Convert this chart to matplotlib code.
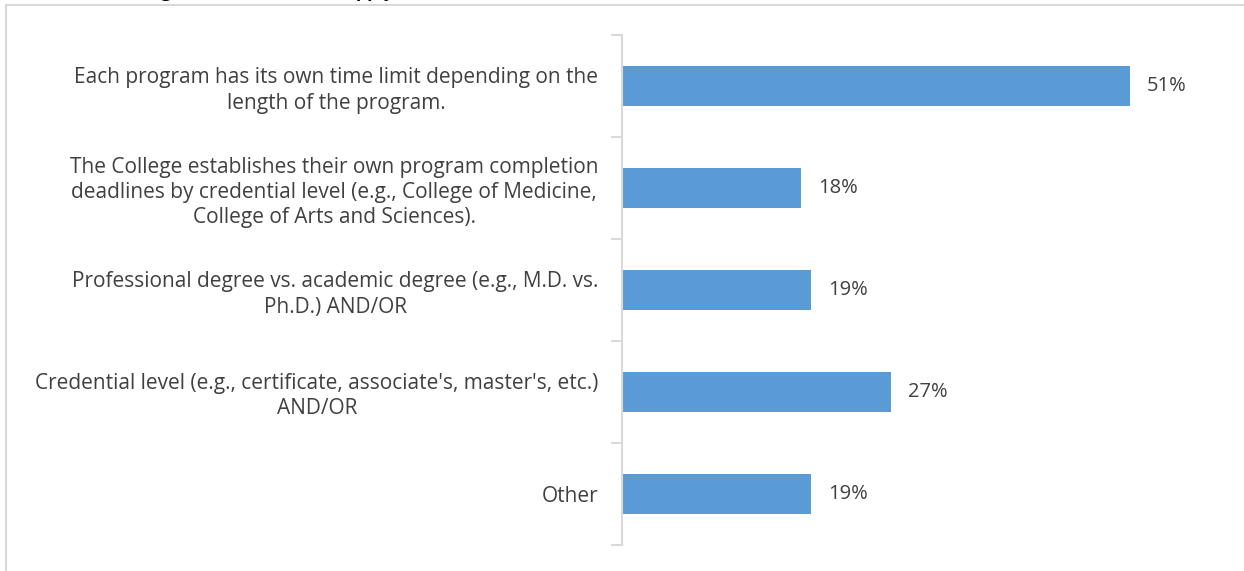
import matplotlib.pyplot as plt
import numpy as np

plt.rcParams['font.family'] = ['Open Sans', 'DejaVu Sans']

categories = [
    "Each program has its own time limit depending on the\nlength of the program.",
    "The College establishes their own program completion\ndeadlines by credential level (e.g., College of Medicine,\nCollege of Arts and Sciences).",
    "Professional degree vs. academic degree (e.g., M.D. vs.\nPh.D.) AND/OR",
    "Credential level (e.g., certificate, associate's, master's, etc.)\nAND/OR",
    "Other",
]
values = [51, 18, 19, 27, 19]
# NOTE: the reference crops its title off, only a few descender pixels show.
# This wording is a placeholder guess, not the original title text.
title = "Program: Select all that apply"

bar_color = '#5B9BD5'
text_color = '#404040'
axis_color = '#D9D9D9'

fig = plt.figure(figsize=(12.44, 5.71), dpi=100)
W, H = 1244, 571

# outer chart border
fig.patches.append(plt.Rectangle((6 / W, -0.1), 1.2, (H - 5) / H + 0.1,
                                 transform=fig.transFigure, fill=False,
                                 edgecolor=axis_color, linewidth=1.5))
# title sits above the crop, only descenders peek in
fig.text(131 / W, 1.0 + 3 / H, title, fontsize=13, fontweight='bold',
         color='black', va='baseline', ha='left')

ax = fig.add_axes([622 / W, (H - 545) / H, 600 / W, 510 / H])
y = np.arange(len(categories))
ax.barh(y, values, height=0.39, color=bar_color)
ax.set_xlim(0, 60.2)
ax.set_ylim(len(categories) - 0.5, -0.5)

for yi, v in zip(y, values):
    ax.text(v + 1.7, yi, f"{v}%", va='center', ha='left',
            fontsize=14.5, color=text_color)

ax.set_yticks(y)
ax.set_yticklabels(categories, fontsize=15, color=text_color,
                   linespacing=1.25, multialignment='center')
ax.tick_params(axis='y', which='major', length=0, pad=17)
ax.set_yticks(np.arange(-0.5, len(categories)), minor=True)
ax.tick_params(axis='y', which='minor', length=8, color=axis_color, width=1.5)
ax.set_xticks([])

for s in ['top', 'right', 'bottom']:
    ax.spines[s].set_visible(False)
ax.spines['left'].set_color(axis_color)
ax.spines['left'].set_linewidth(1.5)

fig.savefig('out.png', dpi=100)
